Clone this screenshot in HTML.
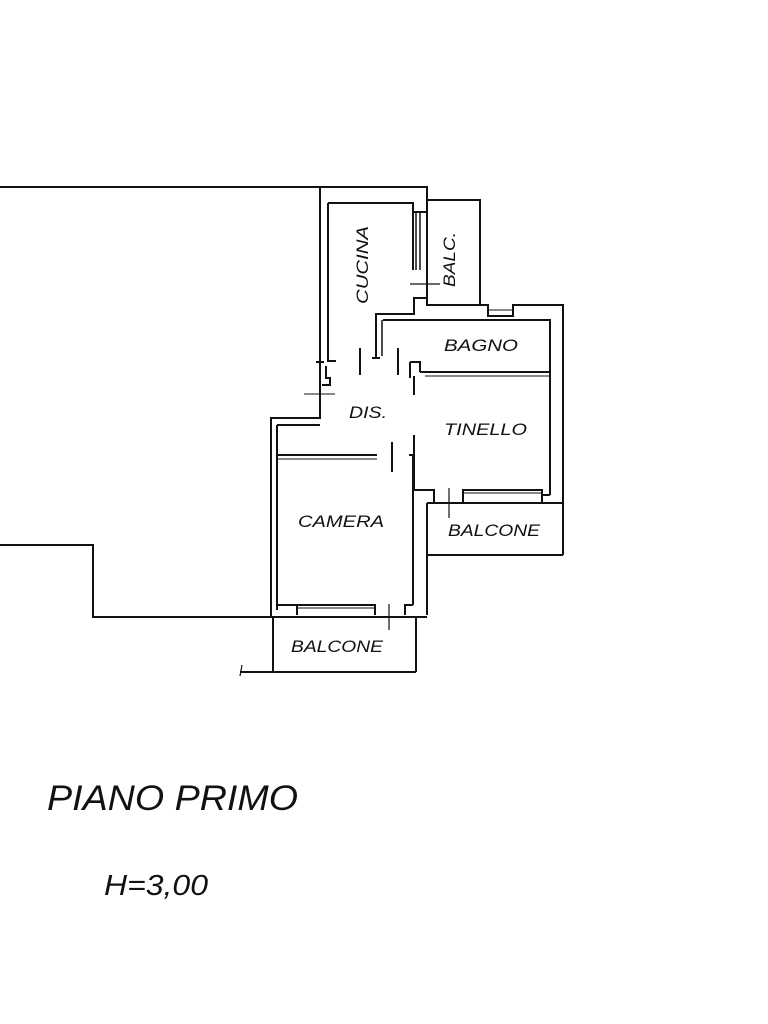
<!DOCTYPE html>
<html><head><style>html,body{margin:0;padding:0;background:#fff}svg{display:block}</style></head>
<body>
<svg width="768" height="1024" viewBox="0 0 768 1024" xmlns="http://www.w3.org/2000/svg">
<g fill="none" stroke="#111" stroke-width="2">
<!-- outer top -->
<polyline points="0,187 427,187 427,200"/>
<!-- left wall corridor -->
<polyline points="320,187 320,362 316,362 324,362"/>
<polyline points="320,362 320,418 271,418 271,617"/>
<polyline points="328,203 328,361 336,361"/>
<polyline points="326,366 326,378 330,378 330,385 322,385"/>
<line x1="304" y1="394" x2="335" y2="394" stroke-width="1"/>
<!-- cucina -->
<polyline points="328,203 413,203 413,270"/>
<line x1="416" y1="212" x2="416" y2="270" stroke-width="1.5"/>
<line x1="420" y1="212" x2="420" y2="270" stroke-width="1.5"/>
<line x1="413" y1="212" x2="427" y2="212"/>
<line x1="410" y1="284" x2="440" y2="284" stroke-width="1.2"/>
<polyline points="427,298 414,298 414,314 376,314 376,358 372,358 380,358"/>
<line x1="382" y1="320" x2="382" y2="356" stroke-width="1.5"/>
<!-- balc -->
<polyline points="427,200 480,200 480,305 427,305 427,200"/>
<polyline points="480,305 488,305 488,316 513,316 513,305 563,305 563,555"/>
<line x1="488" y1="310" x2="513" y2="310" stroke-width="1"/>
<!-- bagno -->
<polyline points="383,320 550,320 550,495"/>
<line x1="420" y1="372" x2="550" y2="372"/>
<line x1="425" y1="376" x2="550" y2="376" stroke-width="1"/>
<polyline points="410,362 420,362 420,372"/>
<line x1="410" y1="362" x2="410" y2="378"/>
<line x1="414" y1="376" x2="414" y2="395"/>
<!-- door ticks -->
<line x1="360" y1="348" x2="360" y2="375"/>
<line x1="398" y1="348" x2="398" y2="375"/>
<line x1="392" y1="442" x2="392" y2="472"/>
<line x1="449" y1="488" x2="449" y2="518" stroke-width="1.2"/>
<line x1="389" y1="604" x2="389" y2="630" stroke-width="1.2"/>
<!-- tinello -->
<polyline points="414,435 414,490 434,490 434,503"/>
<polyline points="409,455 414,455"/>
<polyline points="463,503 463,490 542,490 542,503"/>
<line x1="463" y1="493" x2="542" y2="493" stroke-width="1"/>
<line x1="542" y1="495" x2="550" y2="495"/>
<!-- balcone right -->
<polyline points="427,503 563,503"/>
<polyline points="427,503 427,555 563,555"/>
<!-- camera -->
<polyline points="277,425 320,425"/>
<line x1="277" y1="425" x2="277" y2="610"/>
<line x1="277" y1="455" x2="377" y2="455"/>
<line x1="277" y1="459" x2="377" y2="459" stroke-width="1"/>
<line x1="413" y1="455" x2="413" y2="605"/>
<polyline points="413,605 405,605 405,615"/>
<polyline points="427,503 427,615"/>
<polyline points="297,615 297,605 375,605 375,615"/>
<line x1="297" y1="608" x2="375" y2="608" stroke-width="1"/>
<line x1="277" y1="605" x2="297" y2="605"/>
<!-- bottom -->
<polyline points="0,545 93,545 93,617 427,617"/>
<polyline points="273,617 273,672"/>
<polyline points="416,617 416,672"/>
<line x1="240" y1="672" x2="416" y2="672"/>
<line x1="242" y1="665" x2="240" y2="676" stroke-width="1.2"/>
</g>
<g font-family="Liberation Sans, sans-serif" font-style="italic" fill="#111" font-size="17">
<text x="0" y="0" transform="translate(368,304) rotate(-90)" textLength="78" lengthAdjust="spacingAndGlyphs">CUCINA</text>
<text x="0" y="0" transform="translate(455,287) rotate(-90)" textLength="55" lengthAdjust="spacingAndGlyphs">BALC.</text>
<text x="444" y="351" textLength="74" lengthAdjust="spacingAndGlyphs">BAGNO</text>
<text x="349" y="418" textLength="38" lengthAdjust="spacingAndGlyphs">DIS.</text>
<text x="444" y="435" textLength="83" lengthAdjust="spacingAndGlyphs">TINELLO</text>
<text x="298" y="527" textLength="86" lengthAdjust="spacingAndGlyphs">CAMERA</text>
<text x="448" y="536" textLength="92" lengthAdjust="spacingAndGlyphs">BALCONE</text>
<text x="291" y="652" textLength="92" lengthAdjust="spacingAndGlyphs">BALCONE</text>
<text x="47" y="810" font-size="35" textLength="251" lengthAdjust="spacingAndGlyphs">PIANO PRIMO</text>
<text x="104" y="895" font-size="29" textLength="104" lengthAdjust="spacingAndGlyphs">H=3,00</text>
</g>
</svg>
</body></html>
